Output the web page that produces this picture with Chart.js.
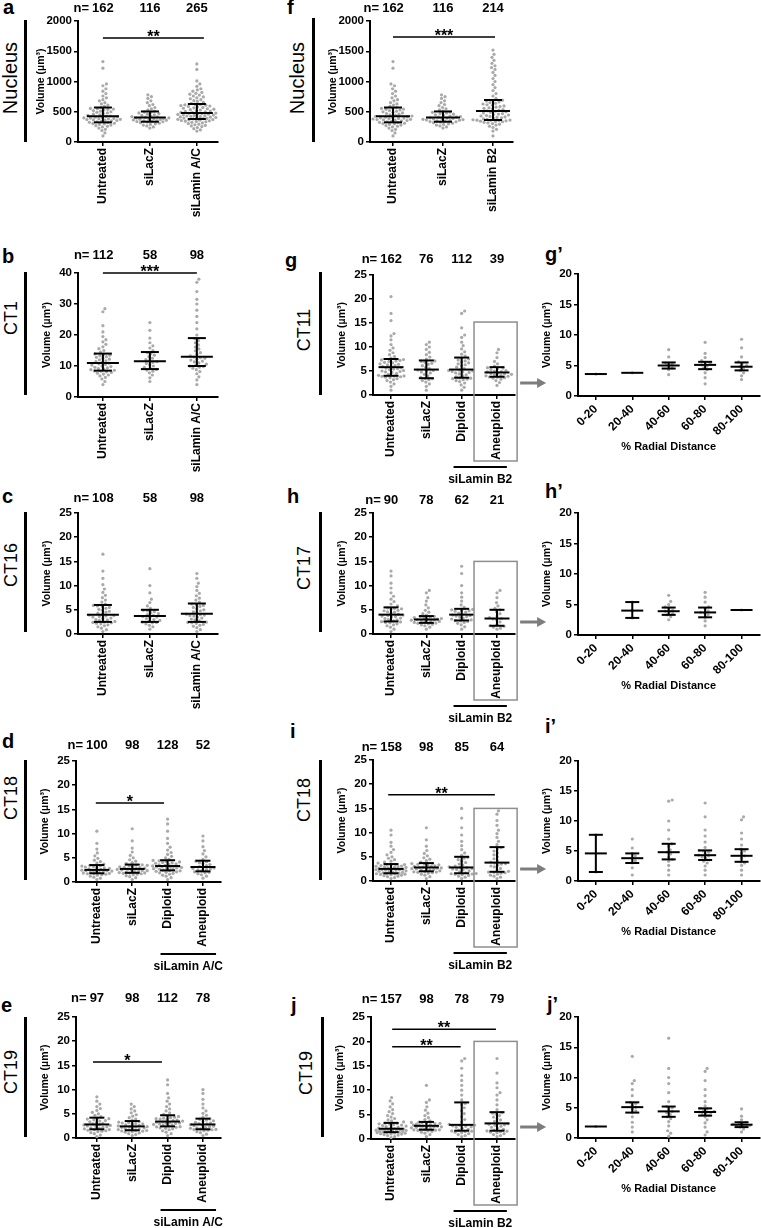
<!DOCTYPE html>
<html>
<head>
<meta charset="utf-8">
<script src="https://cdn.jsdelivr.net/npm/chart.js@4.4.1/dist/chart.umd.min.js"></script>
<style>
  body { margin: 0; background: #fff; }
  #page { position: relative; width: 761px; height: 1228px; overflow: hidden; font-family: "Liberation Sans", Arial, sans-serif; color: #000; }
  #page canvas { position: absolute; }
  .lt { position: absolute; font-size: 20px; font-weight: bold; line-height: 20px; }
  .rl { position: absolute; font-size: 18px; line-height: 18px; white-space: nowrap; transform: translate(-50%, -50%) rotate(-90deg); }
  .bar { position: absolute; width: 3px; background: #000; }
</style>
</head>
<body>
<div id="page">
  <div class="lt" style="left:3px;top:-3px">a</div>
  <div class="lt" style="left:287px;top:-3px">f</div>
  <div class="lt" style="left:2px;top:246px">b</div>
  <div class="lt" style="left:285px;top:250px">g</div>
  <div class="lt" style="left:545px;top:244px">g’</div>
  <div class="lt" style="left:2px;top:486px">c</div>
  <div class="lt" style="left:287px;top:486px">h</div>
  <div class="lt" style="left:545px;top:481px">h’</div>
  <div class="lt" style="left:2px;top:731px">d</div>
  <div class="lt" style="left:290px;top:721px">i</div>
  <div class="lt" style="left:545px;top:716px">i’</div>
  <div class="lt" style="left:1px;top:995px">e</div>
  <div class="lt" style="left:291px;top:995px">j</div>
  <div class="lt" style="left:547px;top:994px">j’</div>

  <div class="rl" style="left:10px;top:78px;font-size:20px">Nucleus</div>
  <div class="rl" style="left:297px;top:78px;font-size:20px">Nucleus</div>
  <div class="rl" style="left:11px;top:318px">CT1</div>
  <div class="rl" style="left:304px;top:330px">CT11</div>
  <div class="rl" style="left:11px;top:565px">CT16</div>
  <div class="rl" style="left:304px;top:568px">CT17</div>
  <div class="rl" style="left:11px;top:798px">CT18</div>
  <div class="rl" style="left:304px;top:800px">CT18</div>
  <div class="rl" style="left:11px;top:1072px">CT19</div>
  <div class="rl" style="left:306px;top:1073px">CT19</div>

  <div class="bar" style="left:24px;top:20px;height:122px"></div>
  <div class="bar" style="left:312px;top:18px;height:124px"></div>
  <div class="bar" style="left:24px;top:272px;height:123px"></div>
  <div class="bar" style="left:319px;top:272px;height:123px"></div>
  <div class="bar" style="left:24px;top:512px;height:120px"></div>
  <div class="bar" style="left:319px;top:512px;height:120px"></div>
  <div class="bar" style="left:24px;top:760px;height:120px"></div>
  <div class="bar" style="left:319px;top:760px;height:120px"></div>
  <div class="bar" style="left:24px;top:1017px;height:120px"></div>
  <div class="bar" style="left:321px;top:1017px;height:120px"></div>
</div>
<script>
// categories
const catsAC = ['Untreated', 'siLacZ', 'siLamin A/C'];
const catsB2 = ['Untreated', 'siLacZ', 'siLamin B2'];
const cats4 = ['Untreated', 'siLacZ', 'Diploid', 'Aneuploid'];
const radialCats = ['0-20', '20-40', '40-60', '60-80', '80-100'];

// nucleus volumes (um3), panels a and f
const nucUntreated = [100,150,190,210,230,250,260,270,280,290,300,305,310,320,325,335,340,350,355,360,365,370,375,380,385,390,395,400,405,410,415,425,430,440,450,460,470,480,490,500,510,520,530,540,545,550,555,570,590,610,630,650,680,700,730,760,800,840,880,930,960,1220,1330];
const nucSiLacZ = [230,250,265,280,290,300,310,320,330,335,338,345,350,355,360,365,370,375,380,385,390,395,400,410,415,420,430,440,450,460,470,480,490,495,510,530,550,570,600,620,650,680,720,750,780];
const nucSiLaminAC = [180,200,220,240,255,265,275,285,295,305,315,325,335,340,345,350,355,360,365,370,375,382,386,390,395,400,405,410,415,420,425,430,435,440,445,450,455,460,465,470,474,478,484,490,498,505,512,520,528,535,542,550,558,565,572,580,588,595,602,608,614,620,625,640,655,670,685,700,715,730,745,760,775,790,805,820,840,860,880,920,960,1010,1200,1290];
const nucSiLaminB2 = [100,180,210,240,260,280,295,305,315,325,335,340,345,350,355,358,361,363,368,375,382,390,398,406,414,422,430,438,446,454,462,470,480,490,500,508,516,526,536,546,556,566,576,586,596,606,616,628,640,652,664,676,686,692,720,760,800,850,900,950,1000,1050,1100,1150,1200,1230,1260,1300,1350,1400,1450,1520];
const aMed = [425, 405, 480], aQ1 = [325, 335, 380], aQ3 = [570, 505, 628], aN = [162, 116, 265];
const fMed = [425, 405, 512], fQ1 = [325, 335, 364], fQ3 = [570, 505, 694], fN = [162, 116, 214];

// CT1 (b)
const ct1Untreated = [4,5,5.8,6.3,6.8,7.1,7.4,7.7,7.9,8.1,8.3,8.4,8.6,8.8,9,9.2,9.4,9.6,9.8,10,10.3,10.5,10.7,10.9,11.2,11.4,11.7,12,12.2,12.5,12.8,13,13.3,13.5,13.7,13.9,14.5,15,15.6,16.2,17,17.8,18.5,19.5,21,23,27.5,28.5];
const ct1SiLacZ = [5,6.2,7.1,7.8,8.3,8.7,8.9,9.2,9.6,10,10.4,10.8,11.2,11.4,11.7,12.1,12.5,13,13.5,14,14.3,15,15.8,16.5,17.5,19,21.5,24];
const ct1SiLaminAC = [4,5.5,6.5,7.5,8.2,8.8,9.3,9.6,9.8,9.95,10.2,10.6,11,11.3,11.6,11.9,12.2,12.5,12.7,12.9,13.3,13.8,14.3,14.9,15.5,16.1,16.8,17.5,18.2,18.8,20,22,24,26,28,30,31.5,34,37,38];
const bMed = [11, 11.5, 13], bQ1 = [8.5, 9, 10], bQ3 = [14, 14.5, 19], bN = [112, 58, 98];

// CT16 (c)
const ct16Untreated = [0.5,0.9,1.2,1.5,1.7,1.9,2.1,2.2,2.3,2.4,2.45,2.6,2.8,2.9,3,3.2,3.3,3.5,3.6,3.7,3.8,3.9,4.1,4.3,4.5,4.7,4.9,5.1,5.3,5.5,5.7,5.8,5.9,6.2,6.6,7,7.5,8,8.6,9.3,10.2,11.5,13,16.5];
const ct16SiLacZ = [1,1.5,1.8,2.1,2.3,2.4,2.45,2.6,2.8,3,3.2,3.4,3.5,3.6,3.8,4,4.2,4.4,4.6,4.8,4.9,5.3,5.8,6.5,7.2,8.5,10,13.5];
const ct16SiLaminAC = [0.5,0.9,1.3,1.6,1.8,2,2.2,2.3,2.4,2.45,2.7,2.9,3.1,3.3,3.5,3.7,3.8,3.9,4,4.1,4.4,4.6,4.8,5,5.2,5.5,5.7,5.9,6.1,6.2,6.6,7,7.4,7.9,8.4,9,9.8,10.5,11.5,12.5];
const cMed = [4, 3.7, 4.2], cQ1 = [2.5, 2.5, 2.5], cQ3 = [6, 5, 6.3], cN = [108, 58, 98];

// CT18, siLamin A/C (d)
const dUntreated = [0.5,0.8,1,1.2,1.4,1.5,1.6,1.7,1.75,1.78,1.85,1.95,2.05,2.15,2.2,2.25,2.3,2.35,2.4,2.45,2.6,2.7,2.8,2.9,3,3.1,3.2,3.3,3.4,3.45,3.7,3.9,4.2,4.5,4.9,5.4,6,6.8,8,10.5];
const dSiLacZ = [0.5,0.9,1.1,1.3,1.5,1.6,1.7,1.8,1.85,1.88,1.95,2.05,2.15,2.25,2.35,2.4,2.5,2.55,2.6,2.65,2.75,2.85,2.95,3.05,3.15,3.25,3.35,3.45,3.5,3.55,3.8,4,4.3,4.6,5,5.5,6.2,7,8.5,11];
const dDiploid = [0.5,0.9,1.2,1.4,1.6,1.8,1.9,2,2.1,2.2,2.3,2.35,2.45,2.55,2.65,2.75,2.85,2.9,3,3.05,3.1,3.15,3.2,3.25,3.35,3.45,3.55,3.65,3.75,3.85,3.95,4.05,4.15,4.25,4.35,4.45,4.7,5,5.3,5.7,6.1,6.6,7.2,8,9,10.5,12,13];
const dAneuploid = [0.8,1.2,1.5,1.7,1.9,2,2.1,2.3,2.5,2.6,2.7,2.8,2.9,3,3.2,3.4,3.6,3.8,4,4.2,4.3,4.7,5.2,5.8,6.5,7.3,8.5,9.5];
const dMed = [2.5, 2.7, 3.3, 3.1], dQ1 = [1.8, 1.9, 2.4, 2.2], dQ3 = [3.5, 3.6, 4.5, 4.4], dN = [100, 98, 128, 52];

// CT19, siLamin A/C (e)
const eUntreated = [0.3,0.6,0.9,1.1,1.3,1.4,1.5,1.6,1.7,1.75,1.9,2,2.1,2.2,2.3,2.4,2.5,2.6,2.7,2.75,2.9,3.05,3.2,3.35,3.5,3.6,3.75,3.9,4,4.1,4.4,4.7,5,5.3,5.7,6.1,6.5,7,7.6,8.5];
const eSiLacZ = [0.5,0.7,0.9,1.05,1.2,1.3,1.4,1.45,1.5,1.55,1.65,1.75,1.85,1.95,2.05,2.1,2.2,2.25,2.3,2.35,2.5,2.6,2.7,2.8,2.9,3,3.1,3.2,3.3,3.4,3.7,3.9,4.2,4.5,4.8,5.2,5.6,6,6.5,7];
const eDiploid = [0.5,0.9,1.2,1.5,1.7,1.9,2,2.1,2.2,2.3,2.35,2.5,2.6,2.7,2.8,2.9,3,3.05,3.1,3.2,3.25,3.3,3.5,3.6,3.7,3.8,3.9,4,4.1,4.2,4.3,4.45,4.6,4.9,5.2,5.6,6,6.5,7,7.6,8.3,9.2,11,12];
const eAneuploid = [0.5,0.8,1.1,1.3,1.5,1.6,1.7,1.75,1.78,1.9,2,2.1,2.2,2.35,2.45,2.55,2.65,2.75,2.9,3,3.1,3.25,3.4,3.55,3.7,3.85,3.95,4.3,4.7,5.1,5.6,6.2,7,8,9.2,10];
const eMed = [2.8, 2.4, 3.4, 2.8], eQ1 = [1.8, 1.6, 2.4, 1.8], eQ3 = [4.2, 3.5, 4.7, 4], eN = [97, 98, 112, 78];

// CT11, siLamin B2 (g, g')
const gUntreated = [1,1.8,2.3,2.7,3,3.2,3.4,3.6,3.7,3.8,3.9,3.95,3.98,4.1,4.3,4.5,4.7,4.8,4.9,5,5.1,5.3,5.4,5.5,5.6,5.7,5.9,6,6.1,6.3,6.4,6.5,6.7,6.8,7,7.1,7.2,7.3,7.4,7.7,8,8.4,8.8,9.3,9.8,10.5,11.5,12.3,12.8,15.5,17,20.5];
const gSiLacZ = [1,1.8,2.3,2.7,3,3.2,3.4,3.45,3.7,4,4.3,4.6,4.8,5,5.1,5.2,5.5,5.8,6.1,6.4,6.6,6.8,7,7.1,7.5,7.9,8.4,8.9,9.5,10,10.5,11];
const gDiploid = [1,1.6,2.1,2.5,2.8,3,3.2,3.3,3.4,3.5,3.55,3.8,4,4.2,4.4,4.6,4.7,4.8,4.9,5,5.1,5.2,5.5,5.8,6.1,6.3,6.5,6.7,6.9,7.1,7.3,7.5,7.7,8.1,8.5,9,9.6,10.3,11,12,12.5,14,17,17.5];
const gAneuploid = [2,2.6,3,3.3,3.5,3.6,3.7,3.75,3.9,4,4.1,4.2,4.3,4.4,4.5,4.6,4.8,4.9,5,5.1,5.3,5.5,5.6,5.7,6,6.5,7,7.8,8.8,9.5];
const gMed = [5.8, 5.3, 5.3, 4.7], gQ1 = [4, 3.5, 3.6, 3.8], gQ3 = [7.5, 7.2, 7.8, 5.8], gN = [162, 76, 112, 39];
const gRadial = [[3.6], [3.8], [3.5,4.3,4.6,5,5.2,5.4,6.4,7.6], [2,3,3.8,4.3,4.6,4.9,5.1,5.3,5.5,5.8,6.3,7,8.8], [2.7,3.3,3.8,4.2,4.6,4.8,5,5.3,5.6,6.4,7.9,9.3]];
const gRMed = [3.6, 3.8, 5, 5.1, 4.8], gRQ1 = [3.6, 3.8, 4.5, 4.4, 4.2], gRQ3 = [3.6, 3.8, 5.5, 5.6, 5.5];

// CT17, siLamin B2 (h, h')
const hUntreated = [0.5,1,1.4,1.7,1.9,2.1,2.3,2.4,2.5,2.55,2.7,2.9,3,3.2,3.3,3.5,3.6,3.7,3.8,3.9,4.1,4.3,4.5,4.6,4.8,4.9,5.1,5.2,5.3,5.4,5.8,6.2,6.7,7.2,7.8,8.5,9.5,10.5,12,13];
const hSiLacZ = [1,1.4,1.7,1.9,2,2.1,2.2,2.25,2.4,2.5,2.6,2.7,2.8,2.85,2.9,2.95,3.05,3.1,3.2,3.3,3.4,3.5,3.6,3.65,3.9,4.2,4.5,4.9,5.4,6,6.8,7.5,8.5,9];
const hDiploid = [1,1.5,1.9,2.2,2.4,2.6,2.7,2.75,2.9,3.1,3.3,3.5,3.6,3.7,3.8,3.9,4.1,4.3,4.5,4.7,4.8,4.9,5,5.1,5.5,6,6.8,7.6,8.5,10,12.5,14];
const hAneuploid = [1,1.2,1.4,1.6,1.7,2,2.5,2.9,3.1,3.2,3.4,3.7,4.2,4.6,5,5.3,5.8,6.5,7.5,8.5,9];
const hMed = [4, 3, 4, 3.2], hQ1 = [2.6, 2.3, 2.8, 1.7], hQ3 = [5.5, 3.7, 5.2, 5], hN = [90, 78, 62, 21];
const hRadial = [[], [2.8,4,5.4], [2.5,3,3.3,3.5,3.8,3.9,4.1,4.4,4.6,5,5.5,6.5], [1.5,2.3,2.9,3.3,3.6,3.7,3.9,4.3,4.6,5.4,6.2,7], [4.1]];
const hRMed = [null, 4, 3.9, 3.7, 4.1], hRQ1 = [null, 2.8, 3.3, 2.9, 4.1], hRQ3 = [null, 5.4, 4.5, 4.5, 4.1];

// CT18, siLamin B2 (i, i')
const iUntreated = [0.5,0.7,0.9,1,1.1,1.2,1.3,1.35,1.4,1.45,1.5,1.55,1.58,1.7,1.8,1.9,2,2.05,2.1,2.2,2.25,2.3,2.35,2.4,2.45,2.48,2.6,2.7,2.8,2.85,2.9,3,3.05,3.1,3.2,3.3,3.35,3.4,3.45,3.7,3.9,4.1,4.4,4.7,5,5.4,5.9,6.5,7.2,8,9.5,10.5];
const iSiLacZ = [0.5,0.9,1.2,1.4,1.6,1.7,1.8,1.85,1.9,1.95,2.1,2.2,2.3,2.4,2.5,2.55,2.6,2.65,2.7,2.75,2.85,2.95,3.05,3.15,3.25,3.35,3.45,3.55,3.6,3.65,3.9,4.2,4.5,4.8,5.2,5.7,6.3,7.2,8.5,11];
const iDiploid = [0.5,0.8,1,1.15,1.3,1.4,1.45,1.5,1.55,1.7,1.9,2.1,2.3,2.4,2.5,2.6,2.7,2.75,2.9,3.1,3.3,3.5,3.8,4.1,4.4,4.7,4.9,5.3,5.8,6.5,7.3,8.2,9.5,11,13,15];
const iAneuploid = [0.5,0.8,1,1.2,1.4,1.6,1.7,1.8,1.85,2,2.3,2.6,2.9,3.1,3.3,3.5,3.6,3.7,3.9,4.2,4.6,5,5.4,5.8,6.2,6.6,6.9,7.5,8.2,9,9.8,10.5,11.5,12.5,13.8,14.5];
const iMed = [2.5, 2.8, 2.8, 3.8], iQ1 = [1.6, 2, 1.6, 1.9], iQ3 = [3.5, 3.7, 5, 7], iN = [158, 98, 85, 64];
const iRadial = [[1.5,7.7], [1,2.2,3,3.4,3.8,4.2,4.6,5.5,7], [1,1.8,2.6,3.3,3.6,4,4.5,4.8,5.2,5.8,6.2,7,8.5,10,13.3,13.5], [1,1.8,2.5,3,3.3,3.5,3.8,4,4.2,4.3,4.5,4.8,5,5.1,5.6,6.5,7.5,8.5,10.7,13], [1,1.8,2.6,3,3.2,3.8,4.2,4.6,5,5.3,6,7,8,10.2,10.7]];
const iRMed = [4.6, 3.8, 4.8, 4.3, 4.2], iRQ1 = [1.5, 3, 3.6, 3.5, 3.2], iRQ3 = [7.7, 4.6, 6.2, 5.1, 5.3];

// CT19, siLamin B2 (j, j')
const jUntreated = [0.3,0.5,0.7,0.8,0.9,1,1.05,1.1,1.2,1.25,1.3,1.35,1.38,1.45,1.5,1.55,1.6,1.65,1.7,1.75,1.8,1.85,1.9,1.95,2,2.05,2.15,2.25,2.35,2.45,2.55,2.65,2.75,2.85,2.95,3.05,3.1,3.2,3.25,3.5,3.7,3.9,4.2,4.5,4.8,5.2,5.6,6,6.6,7.2,7.8,8.5];
const jSiLacZ = [0.5,0.9,1.2,1.4,1.55,1.65,1.75,1.8,1.85,1.88,2,2.1,2.2,2.3,2.4,2.45,2.5,2.55,2.6,2.65,2.75,2.85,2.95,3.05,3.15,3.2,3.3,3.35,3.4,3.45,3.7,4,4.4,4.8,5.3,5.9,6.6,7.5,8,11];
const jDiploid = [0.5,0.7,0.9,1.1,1.3,1.4,1.5,1.6,1.65,1.8,2,2.2,2.4,2.5,2.6,2.7,2.8,2.85,3,3.5,4,4.6,5.2,5.8,6.4,7,7.3,8,9,10,11,12,13,14.5,16,16.5];
const jAneuploid = [0.5,0.7,0.9,1.1,1.3,1.4,1.5,1.6,1.65,1.8,2,2.2,2.4,2.6,2.8,2.9,3,3.1,3.3,3.6,3.9,4.2,4.5,4.8,5.1,5.3,5.4,6,7,8,9,9.5,10.5,11.5,13.5,16.5];
const jMed = [2.1, 2.7, 2.9, 3.2], jQ1 = [1.4, 1.9, 1.7, 1.7], jQ3 = [3.3, 3.5, 7.5, 5.5], jN = [157, 98, 78, 79];
const jRadial = [[1.9], [1,1.8,2.6,3.5,4.2,4.5,4.8,5.1,5.4,5.7,5.9,7,8,9,9.5,13.5], [0.3,0.8,1.2,2,2.7,3.2,3.5,3.9,4.2,4.4,4.7,5,5.2,6,7.5,9,10,11.5,16.5], [0.5,1,1.8,2.5,3,3.5,3.7,3.9,4.1,4.2,4.3,4.4,4.6,4.8,4.9,5.3,6,7,8,9.5,11,11.5], [1,1.5,1.8,1.9,2,2.1,2.2,2.3,2.5,2.6,3,3.6,4.8]];
const jRMed = [1.9, 5.1, 4.4, 4.3, 2.2], jRQ1 = [1.9, 4.2, 3.5, 3.7, 1.8], jRQ3 = [1.9, 5.9, 5.2, 4.9, 2.6];

// ---- layout of each panel on the page (px) ----
const FONT = '"Liberation Sans", Arial, sans-serif';
Chart.defaults.font.family = FONT;
Chart.defaults.color = '#000';

const left3 = { L: 30, W: 200, x0: 78, x1: 218, xmin: -0.53, xmax: 2.45, mw: 16, cw: 9, ytOff: 31, rot: 90, spread: 19 };
const left4 = { L: 30, W: 200, x0: 76, x1: 221, xmin: -0.59, xmax: 3.51, mw: 12.5, cw: 7.5, ytOff: 31, rot: 90, spread: 15 };
const right4 = { L: 322, W: 226, x0: 373, x1: 515, xmin: -0.51, xmax: 3.51, mw: 12.5, cw: 7.5, ytOff: 31, rot: 90, spread: 15 };
const prime = { L: 538, W: 223, x0: 578, x1: 760, xmin: -0.49, xmax: 4.49, mw: 11, cw: 7, ytOff: 31, rot: 45, spread: 12, ymax: 20, step: 5, cats: radialCats, xTitle: '% Radial Distance' };
const grpB2 = { a: 1.77, b: 3.28, label: 'siLamin B2' };
const grpAC = { a: 1.8, b: 3.37, label: 'siLamin A/C' };

const panels = {
  a: { ...left3, T: 0, H: 250, yt: 21, yb: 142, ymax: 2000, step: 500, ytOff: 37, cats: catsAC, cols: [nucUntreated, nucSiLacZ, nucSiLaminAC], med: aMed, q1: aQ1, q3: aQ3, n: aN, nY: 8, sig: [[0, 2.15, 1720, '**']] },
  f: { L: 322, W: 226, x0: 370, x1: 513, xmin: -0.46, xmax: 2.4, mw: 17, cw: 9, rot: 90, spread: 20, T: 0, H: 250, yt: 21, yb: 142, ymax: 2000, step: 500, ytOff: 37, cats: catsB2, cols: [nucUntreated, nucSiLacZ, nucSiLaminB2], med: fMed, q1: fQ1, q3: fQ3, n: fN, nY: 8, sig: [[0, 2.04, 1735, '***']] },
  b: { ...left3, T: 245, H: 245, yt: 273, yb: 397, ymax: 40, step: 10, cats: catsAC, cols: [ct1Untreated, ct1SiLacZ, ct1SiLaminAC], med: bMed, q1: bQ1, q3: bQ3, n: bN, nY: 255, sig: [[0, 2, 40, '***']] },
  g: { ...right4, T: 245, H: 245, yt: 275, yb: 395, ymax: 25, step: 5, cats: cats4, cols: [gUntreated, gSiLacZ, gDiploid, gAneuploid], med: gMed, q1: gQ1, q3: gQ3, n: gN, nY: 259, box: 15.2, group: grpB2, arrow: true },
  gp: { ...prime, T: 245, H: 245, yt: 274, yb: 396, cols: gRadial, med: gRMed, q1: gRQ1, q3: gRQ3 },
  c: { ...left3, T: 488, H: 245, yt: 513, yb: 634, ymax: 25, step: 5, cats: catsAC, cols: [ct16Untreated, ct16SiLacZ, ct16SiLaminAC], med: cMed, q1: cQ1, q3: cQ3, n: cN, nY: 498 },
  h: { ...right4, T: 488, H: 245, yt: 513, yb: 634, ymax: 25, step: 5, cats: cats4, cols: [hUntreated, hSiLacZ, hDiploid, hAneuploid], med: hMed, q1: hQ1, q3: hQ3, n: hN, nY: 500, box: 15, group: grpB2, arrow: true },
  hp: { ...prime, T: 488, H: 245, yt: 513, yb: 635, cols: hRadial, med: hRMed, q1: hRQ1, q3: hRQ3 },
  d: { ...left4, T: 728, H: 255, yt: 761, yb: 882, ymax: 25, step: 5, cats: cats4, cols: [dUntreated, dSiLacZ, dDiploid, dAneuploid], med: dMed, q1: dQ1, q3: dQ3, n: dN, nY: 745, sig: [[-0.03, 1.9, 16.3, '*']], group: grpAC },
  i: { ...right4, T: 728, H: 255, yt: 760, yb: 881, ymax: 25, step: 5, cats: cats4, cols: [iUntreated, iSiLacZ, iDiploid, iAneuploid], med: iMed, q1: iQ1, q3: iQ3, n: iN, nY: 747, box: 15, sig: [[-0.08, 2.94, 17.8, '**']], group: grpB2, arrow: true },
  ip: { ...prime, T: 728, H: 255, yt: 761, yb: 881, cols: iRadial, med: iRMed, q1: iRQ1, q3: iRQ3 },
  e: { ...left4, T: 985, H: 243, yt: 1017, yb: 1138, ymax: 25, step: 5, cats: cats4, cols: [eUntreated, eSiLacZ, eDiploid, eAneuploid], med: eMed, q1: eQ1, q3: eQ3, n: eN, nY: 998, sig: [[-0.11, 1.84, 15.7, '*']], group: grpAC },
  j: { ...right4, x0: 371, xmin: -0.57, T: 985, H: 243, yt: 1017, yb: 1139, ymax: 25, step: 5, cats: cats4, cols: [jUntreated, jSiLacZ, jDiploid, jAneuploid], med: jMed, q1: jQ1, q3: jQ3, n: jN, nY: 999, box: 20, sig: [[0.03, 2.97, 22.5, '**'], [0.03, 1.97, 18.9, '**']], group: grpB2, arrow: true },
  jp: { ...prime, T: 985, H: 243, yt: 1017, yb: 1138, cols: jRadial, med: jRMed, q1: jRQ1, q3: jRQ3 }
};

// medians / IQR bars, headers, significance bars, boxes, arrows
const extras = {
  id: 'extras',
  afterDatasetsDraw(chart) {
    const P = panels[chart.canvas.id];
    const ctx = chart.ctx, X = v => chart.scales.x.getPixelForValue(v), Y = v => chart.scales.y.getPixelForValue(v);
    const seg = (x1, y1, x2, y2) => { ctx.beginPath(); ctx.moveTo(x1, y1); ctx.lineTo(x2, y2); ctx.stroke(); };
    ctx.save();
    ctx.strokeStyle = '#000';
    ctx.lineWidth = 2;
    P.med.forEach((m, i) => {
      if (m == null) return;
      const cx = X(i);
      seg(cx - P.mw, Y(m), cx + P.mw, Y(m));
      if (P.q3[i] > P.q1[i]) {
        seg(cx, Y(P.q1[i]), cx, Y(P.q3[i]));
        seg(cx - P.cw, Y(P.q1[i]), cx + P.cw, Y(P.q1[i]));
        seg(cx - P.cw, Y(P.q3[i]), cx + P.cw, Y(P.q3[i]));
      }
    });
    ctx.restore();
  },
  afterDraw(chart) {
    const P = panels[chart.canvas.id];
    const ctx = chart.ctx, ca = chart.chartArea;
    const X = v => chart.scales.x.getPixelForValue(v), Y = v => chart.scales.y.getPixelForValue(v);
    const seg = (x1, y1, x2, y2) => { ctx.beginPath(); ctx.moveTo(x1, y1); ctx.lineTo(x2, y2); ctx.stroke(); };
    ctx.save();
    ctx.fillStyle = '#000';
    ctx.strokeStyle = '#000';

    // y title
    ctx.save();
    ctx.translate(ca.left - P.ytOff, (ca.top + ca.bottom) / 2);
    ctx.rotate(-Math.PI / 2);
    ctx.font = 'bold 10.5px ' + FONT;
    ctx.textAlign = 'center';
    ctx.textBaseline = 'middle';
    ctx.fillText('Volume (µm³)', 0, 0);
    ctx.restore();

    // n = header
    if (P.n) {
      ctx.font = 'bold 13px ' + FONT;
      ctx.textBaseline = 'middle';
      ctx.textAlign = 'center';
      const y = P.nY - P.T;
      P.n.forEach((n, i) => ctx.fillText(String(n), X(i), y));
      const w0 = ctx.measureText(String(P.n[0])).width;
      ctx.textAlign = 'right';
      ctx.fillText('n=', X(0) - w0 / 2 - 3, y);
    }

    // significance bars
    (P.sig || []).forEach(([a, b, v, t]) => {
      ctx.lineWidth = 1.5;
      seg(X(a), Y(v), X(b), Y(v));
      ctx.font = 'bold 16px ' + FONT;
      ctx.textAlign = 'center';
      ctx.textBaseline = 'alphabetic';
      ctx.fillText(t, (X(a) + X(b)) / 2, Y(v) + 4);
    });

    // aneuploid box + arrow
    if (P.box != null) {
      ctx.strokeStyle = '#8e8e8e';
      ctx.lineWidth = 1.5;
      const bl = X(3 - 0.65), br = X(3 + 0.57);
      ctx.strokeRect(bl, Y(P.box), br - bl, ca.bottom + 66 - Y(P.box));
      if (P.arrow) {
        const y = ca.bottom - 12, s = br + 3, e = s + 26;
        ctx.strokeStyle = '#7d7d7d';
        ctx.fillStyle = '#7d7d7d';
        ctx.lineWidth = 3;
        seg(s, y, e - 7, y);
        ctx.beginPath();
        ctx.moveTo(e, y); ctx.lineTo(e - 9, y - 5); ctx.lineTo(e - 9, y + 5); ctx.closePath();
        ctx.fill();
        ctx.fillStyle = '#000';
      }
      ctx.strokeStyle = '#000';
    }

    // group underline + label
    if (P.group) {
      const g = P.group;
      ctx.lineWidth = 2;
      seg(X(g.a), ca.bottom + 72, X(g.b), ca.bottom + 72);
      ctx.font = 'bold 12px ' + FONT;
      ctx.textAlign = 'center';
      ctx.textBaseline = 'middle';
      ctx.fillText(g.label, (X(g.a) + X(g.b)) / 2, ca.bottom + 85);
    }

    // x title on radial panels
    if (P.xTitle) {
      ctx.font = 'bold 11px ' + FONT;
      ctx.textAlign = 'center';
      ctx.textBaseline = 'middle';
      ctx.fillText(P.xTitle, (ca.left + ca.right) / 2, ca.bottom + 51);
    }
    ctx.restore();
  }
};

// beeswarm offsets (px) for values already placed on the y scale;
// the column is kept within +-maxW, where it allows the least overlap
function swarm(ys, gap, maxW) {
  const order = ys.map((_, i) => i).sort((a, b) => ys[b] - ys[a]);
  const placed = [], off = [];
  for (const i of order) {
    let best = 0, bestD = -1;
    for (let k = 0; ; k++) {
      const c = (k % 2 ? 1 : -1) * Math.ceil(k / 2) * 0.5;
      if (Math.abs(c) > maxW) break;
      let d = Infinity;
      for (const p of placed) {
        const dd = Math.hypot(p[0] - c, p[1] - ys[i]);
        if (dd < d) d = dd;
      }
      if (d >= gap) { best = c; bestD = d; break; }
      if (d > bestD) { best = c; bestD = d; }
    }
    off[i] = best;
    placed.push([best, ys[i]]);
  }
  return off;
}

const page = document.getElementById('page');
const YW = 40;

Object.keys(panels).forEach(id => {
  const P = panels[id];
  const cv = document.createElement('canvas');
  cv.id = id;
  cv.width = P.W;
  cv.height = P.H;
  cv.style.left = P.L + 'px';
  cv.style.top = P.T + 'px';
  page.appendChild(cv);

  // x scale takes all the room under the axis so rotated labels are not clipped
  const XH = P.T + P.H - P.yb - 2;
  const axisGrid = { drawOnChartArea: false, tickLength: 4, color: '#000', lineWidth: 1.5 };
  const chart = new Chart(cv, {
    type: 'scatter',
    data: {
      datasets: P.cols.map((vals, i) => ({
        data: vals.map(v => ({ x: i, y: v })),
        pointRadius: 1.6,
        pointHoverRadius: 1.6,
        pointBackgroundColor: '#a9a9a9',
        pointBorderWidth: 0
      }))
    },
    options: {
      responsive: false,
      animation: false,
      events: [],
      layout: { padding: { left: P.x0 - P.L - YW, right: P.L + P.W - P.x1, top: P.yt - P.T, bottom: 2 } },
      plugins: { legend: { display: false }, tooltip: { enabled: false } },
      scales: {
        x: {
          type: 'linear', min: P.xmin, max: P.xmax,
          afterBuildTicks: s => { s.ticks = P.cats.map((c, i) => ({ value: i })); },
          afterFit: s => { s.height = XH; s.paddingLeft = 0; s.paddingRight = 0; },
          ticks: { autoSkip: false, minRotation: P.rot, maxRotation: P.rot, padding: 2, color: '#000', font: { size: 12, weight: 'bold' }, callback: v => P.cats[v] },
          grid: axisGrid,
          border: { color: '#000', width: 2 }
        },
        y: {
          min: 0, max: P.ymax,
          afterFit: s => { s.width = YW; s.paddingTop = 0; s.paddingBottom = 0; },
          ticks: { stepSize: P.step, padding: 2, color: '#000', font: { size: 11.5, weight: 'bold' }, callback: v => String(v) },
          grid: axisGrid,
          border: { color: '#000', width: 2 }
        }
      }
    },
    plugins: [extras]
  });

  // spread the dots sideways in each column
  const xs = chart.scales.x, ys = chart.scales.y;
  const ppu = xs.getPixelForValue(1) - xs.getPixelForValue(0);
  chart.data.datasets.forEach((ds, i) => {
    const vals = P.cols[i];
    const off = swarm(vals.map(v => ys.getPixelForValue(v)), 3.6, P.spread);
    ds.data = vals.map((v, k) => ({ x: i + off[k] / ppu, y: v }));
  });
  chart.update('none');
});
</script>
</body>
</html>
